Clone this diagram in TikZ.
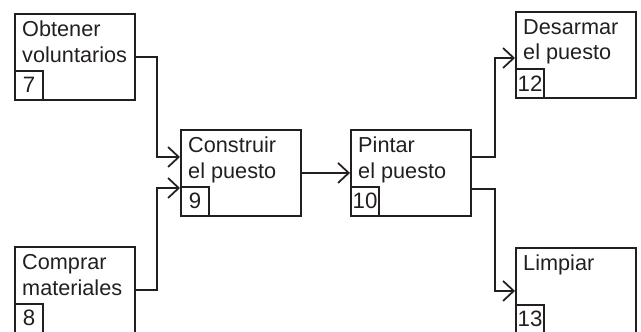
\documentclass[tikz,border=0pt]{standalone}
\usepackage{fontspec}
\setmainfont{Liberation Sans}
\usetikzlibrary{arrows.meta,calc}
\definecolor{ink}{HTML}{231F20}

\begin{document}
\begin{tikzpicture}[
    x=0.03cm, y=-0.03cm,
    task/.style={draw=ink, line width=1.6pt, anchor=north west, minimum width=3.6cm, minimum height=2.58cm, inner sep=0pt},
    txt/.style={anchor=north west, align=left, inner sep=0pt, text=ink, font=\fontsize{18.5}{22}\selectfont},
    num/.style={draw=ink, line width=1.8pt, anchor=south west, minimum width=0.84cm, minimum height=0.87cm, inner sep=0pt, text=ink, font=\fontsize{19}{22}\selectfont},
    arr/.style={draw=ink, -{Straight Barb[length=0.32cm, width=0.6cm]}, line width=1.5pt}
]
\path[use as bounding box, clip] (0,0) rectangle (641,331);

\node[task] (t7) at (14,13) {};
\node[task] (t8) at (14,246) {};
\node[task] (t9) at (180,129) {};
\node[task] (t10) at (350,129) {};
\node[task] (t12) at (515,11) {};
\node[task] (t13) at (515,247) {};

\node[txt] (l7) at ($(t7.north west)+(8,8)$) {Obtener\\voluntarios};
\node[txt] (l8) at ($(t8.north west)+(8,8)$) {Comprar\\materiales};
\node[txt] (l9) at ($(t9.north west)+(8,8)$) {Construir\\el puesto};
\node[txt] (l10) at ($(t10.north west)+(8,8)$) {Pintar\\el puesto};
\node[txt] (l12) at ($(t12.north west)+(8,8)$) {Desarmar\\el puesto};
\node[txt] (l13) at ($(t13.north west)+(8,8)$) {Limpiar};

\node[num] (n7) at (t7.south west) {7};
\node[num] (n8) at (t8.south west) {8};
\node[num] (n9) at (t9.south west) {9};
\node[num] (n10) at (t10.south west) {10};
\node[num] (n12) at (t12.south west) {12};
\node[num] (n13) at (t13.south west) {13};

\draw[arr] (t7.east) -- ++(21,0) |- ($(t9.north west)+(0,28)$);
\draw[arr] (t8.east) -- ++(21,0) |- ($(t9.north west)+(0,59)$);
\draw[arr] (t9.east) -- (t10.west);
\draw[arr] ($(t10.north east)+(0,28)$) -- ++(23,0) |- ($(t12.north west)+(0,47)$);
\draw[arr] ($(t10.north east)+(0,60)$) -- ++(23,0) |- (t13.west);
\end{tikzpicture}
\end{document}
